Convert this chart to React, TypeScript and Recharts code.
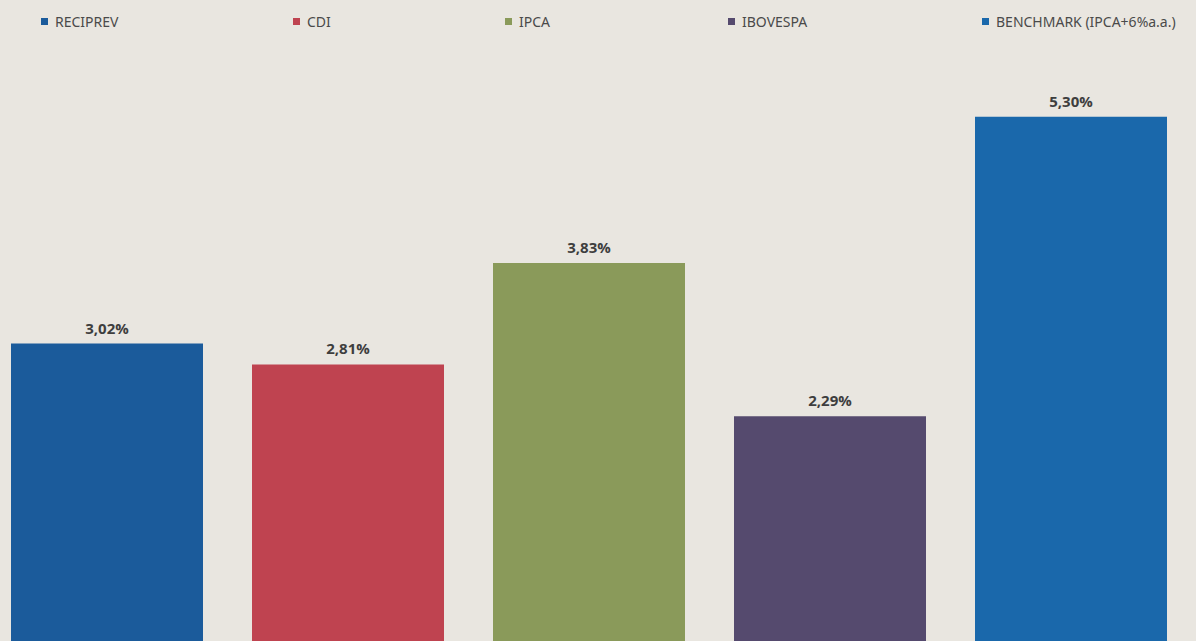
import { BarChart, Bar, Cell, XAxis, YAxis, Legend, LabelList } from 'recharts';

const CATEGORIES = ['RECIPREV', 'CDI', 'IPCA', 'IBOVESPA', 'BENCHMARK (IPCA+6%a.a.)'];
const VALUES = [3.02, 2.81, 3.83, 2.29, 5.3];
const COLORS = ['#1b5b9b', '#bf4350', '#8a9a5a', '#554a6e', '#1a68ab'];
const LEGEND_X = [41, 293, 505, 728, 982];

const data = CATEGORIES.map((name, i) => ({ name, value: VALUES[i] }));

const fmt = (v: any) => Number(v).toFixed(2).replace('.', ',') + '%';

// zero-height box so the legend doesn't push the plot area down
function TopLegend() {
  return (
    <div style={{ position: 'relative', width: 1210, height: 0 }}>
      {CATEGORIES.map((c, i) => (
        <div
          key={c}
          style={{
            position: 'absolute',
            left: LEGEND_X[i] + 14,
            top: 0,
            display: 'flex',
            alignItems: 'center',
            fontFamily: '"Noto Sans", sans-serif',
            fontSize: 14,
            color: '#4a4a4a',
            whiteSpace: 'nowrap',
          }}
        >
          <span style={{ width: 7, height: 7, background: COLORS[i], marginRight: 7, display: 'inline-block' }} />
          {c}
        </div>
      ))}
    </div>
  );
}

export default function App() {
  return (
    <div
      style={{
        position: 'fixed',
        left: 0,
        top: 0,
        width: 1196,
        height: 641,
        overflow: 'hidden',
        background: '#e9e6e0',
      }}
    >
      <div style={{ marginLeft: -14 }}>
        <BarChart width={1210} height={650} data={data} margin={{ top: 47, right: 5, bottom: 6, left: 0 }}>
          <XAxis dataKey="name" hide />
          <YAxis domain={[0, 6]} hide />
          <Legend
            verticalAlign="top"
            content={<TopLegend />}
            wrapperStyle={{ top: 12, left: 0, width: 1210, height: 0 }}
          />
          <Bar dataKey="value" barSize={192} isAnimationActive={false}>
            {data.map((d, i) => (
              <Cell key={d.name} fill={COLORS[i]} />
            ))}
            <LabelList
              dataKey="value"
              position="top"
              offset={10}
              formatter={fmt}
              style={{ fontFamily: '"Open Sans", sans-serif', fontWeight: 700, fontSize: 15, fill: '#3e3e3e' }}
            />
          </Bar>
        </BarChart>
      </div>
    </div>
  );
}
